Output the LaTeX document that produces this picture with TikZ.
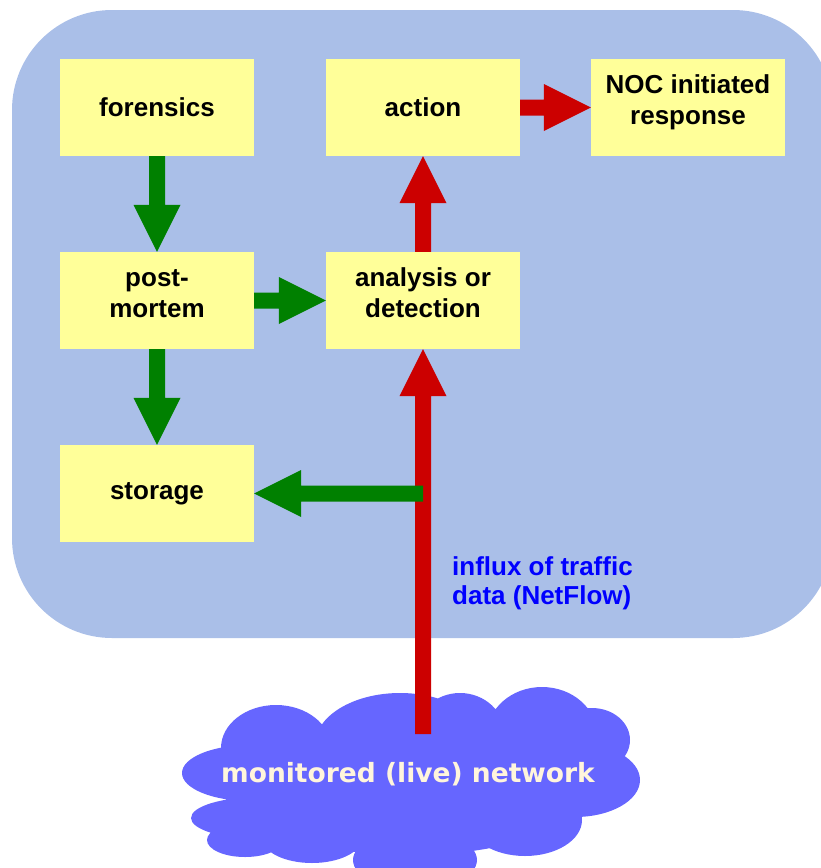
\documentclass[tikz,border=0pt]{standalone}
\usepackage{fontspec}
\setmainfont{Liberation Sans}
\newfontfamily\netfont{DejaVu Sans}
\usetikzlibrary{calc}
\definecolor{bgblue}{RGB}{170,191,232}
\definecolor{boxyellow}{RGB}{255,255,153}
\definecolor{arrgreen}{RGB}{0,128,0}
\definecolor{arrred}{RGB}{204,0,0}
\definecolor{cloudblue}{RGB}{102,102,255}
\definecolor{cloudtext}{RGB}{255,245,220}
\definecolor{labelblue}{RGB}{0,0,255}
\newcommand\blockarrow[3]{%
  \fill[#1] let \p1=(#2), \p2=(#3),
    \n1={veclen((\x2)-(\x1),(\y2)-(\y1))},
    \n2={((\x2)-(\x1))/(\n1)},
    \n3={((\y2)-(\y1))/(\n1)},
    \n4={(\n1)-47}
  in ({(\x1)-8*(\n3)},{(\y1)+8*(\n2)})
  -- ({(\x1)+(\n4)*(\n2)-8*(\n3)},{(\y1)+(\n4)*(\n3)+8*(\n2)})
  -- ({(\x1)+(\n4)*(\n2)-23.5*(\n3)},{(\y1)+(\n4)*(\n3)+23.5*(\n2)})
  -- (\p2)
  -- ({(\x1)+(\n4)*(\n2)+23.5*(\n3)},{(\y1)+(\n4)*(\n3)-23.5*(\n2)})
  -- ({(\x1)+(\n4)*(\n2)+8*(\n3)},{(\y1)+(\n4)*(\n3)-8*(\n2)})
  -- ({(\x1)+8*(\n3)},{(\y1)-8*(\n2)}) -- cycle;}
\begin{document}
\begin{tikzpicture}[x=1pt,y=-1pt,
  box/.style={fill=boxyellow, minimum width=194pt, minimum height=97pt,
    inner sep=0pt, align=center, font=\bfseries\fontsize{26}{31}\selectfont},
  twoline/.style={box, text height=50pt, text depth=16pt},
  nettext/.style={text=cloudtext, inner sep=0pt,
    font=\netfont\bfseries\fontsize{26.5}{30}\selectfont},
  fluxtext/.style={text=labelblue, inner sep=0pt, align=left,
    font=\bfseries\fontsize{26}{29}\selectfont}]
\useasboundingbox (0,0) rectangle (821,868);
\begin{scope}
  \clip (0,0) rectangle (821,868);
  \fill[bgblue, rounded corners=100pt] (12,10) rectangle (833,638);
  \fill[cloudblue]
    (276,748) ellipse [x radius=55pt, y radius=43pt]
    (400,745) ellipse [x radius=85pt, y radius=52pt]
    (460,735) ellipse [x radius=45pt, y radius=42pt]
    (542,735) ellipse [x radius=55pt, y radius=48pt]
    (592,740) ellipse [x radius=38pt, y radius=32pt]
    (575,780) ellipse [x radius=65pt, y radius=37pt]
    (525,820) ellipse [x radius=57pt, y radius=36pt]
    (415,860) ellipse [x radius=62pt, y radius=30pt]
    (312,838) ellipse [x radius=50pt, y radius=25pt]
    (245,840) ellipse [x radius=38pt, y radius=17pt]
    (250,773) ellipse [x radius=68pt, y radius=28pt]
    (260,818) ellipse [x radius=69pt, y radius=21pt]
    (410,800) ellipse [x radius=165pt, y radius=55pt];
\end{scope}
\node[box] (fo) at (157,107.5) {forensics};
\node[box] (ac) at (423,107.5) {action};
\node[twoline] (noc) at (688,107.5) {NOC initiated\\response};
\node[twoline] (pm) at (157,300.5) {post-\\mortem};
\node[twoline] (an) at (423,300.5) {analysis or\\detection};
\node[box] (st) at (157,493.5) {storage};
\node[nettext, anchor=base] (net) at (408,782) {monitored (live) network};
\node[fluxtext, anchor=north west] (flux) at (452,556) {influx of traffic\\data (NetFlow)};
\coordinate (src) at (423,734);
\coordinate (jn) at (an.south |- st.east);
\blockarrow{arrred}{src}{an.south}
\blockarrow{arrgreen}{jn}{st.east}
\blockarrow{arrgreen}{fo.south}{pm.north}
\blockarrow{arrgreen}{pm.south}{st.north}
\blockarrow{arrgreen}{pm.east}{an.west}
\blockarrow{arrred}{an.north}{ac.south}
\blockarrow{arrred}{ac.east}{noc.west}
\end{tikzpicture}
\end{document}
